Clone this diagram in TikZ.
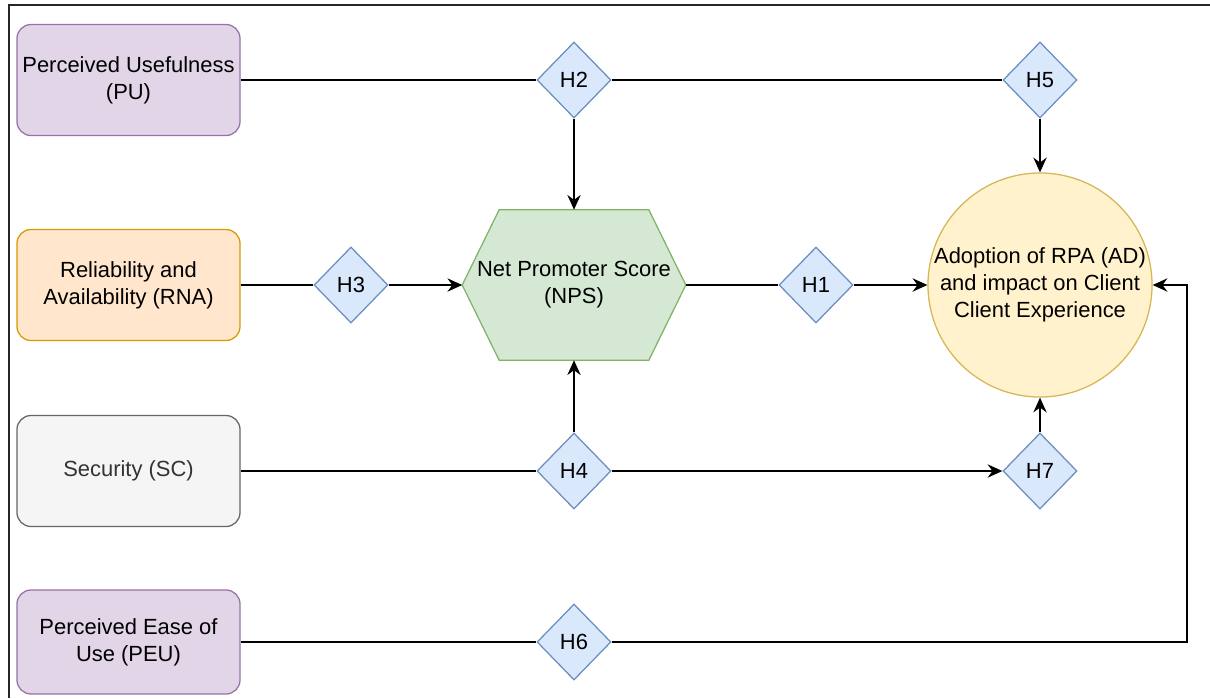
\documentclass[tikz,border=0pt]{standalone}
\usepackage{fontspec}
\setmainfont{Liberation Sans}
\usetikzlibrary{arrows.meta, shapes.geometric, calc, backgrounds}

\definecolor{puFill}{HTML}{E1D5E7}
\definecolor{puDraw}{HTML}{9673A6}
\definecolor{rnaFill}{HTML}{FFE6CC}
\definecolor{rnaDraw}{HTML}{D79B00}
\definecolor{scFill}{HTML}{F5F5F5}
\definecolor{scDraw}{HTML}{666666}
\definecolor{scText}{HTML}{333333}
\definecolor{npsFill}{HTML}{D5E8D4}
\definecolor{npsDraw}{HTML}{82B366}
\definecolor{hypFill}{HTML}{DAE8FC}
\definecolor{hypDraw}{HTML}{6C8EBF}
\definecolor{adFill}{HTML}{FFF2CC}
\definecolor{adDraw}{HTML}{D6B656}

\begin{document}
\begin{tikzpicture}[
  x=0.025cm, y=-0.025cm,
  every node/.style={font=\fontsize{15.6}{19.2}\selectfont},
  box/.style={draw, line width=0.9pt, rounded corners=10pt, minimum width=5.575cm, minimum height=2.775cm, align=center, inner sep=2pt},
  usefulness/.style={box, fill=puFill, draw=puDraw},
  reliab/.style={box, fill=rnaFill, draw=rnaDraw},
  secur/.style={box, fill=scFill, draw=scDraw, text=scText},
  hyp/.style={diamond, draw=hypDraw, fill=hypFill, line width=0.9pt, minimum width=1.85cm, minimum height=1.9cm, inner sep=0pt},
  hexnode/.style={minimum width=5.575cm, minimum height=3.75cm, align=center, inner sep=0pt},
  adopt/.style={circle, draw=adDraw, fill=adFill, line width=0.9pt, minimum size=5.6cm, inner sep=0pt, align=center},
  arrow/.style={-{Stealth[length=10.5pt, width=9.5pt, inset=3.5pt]}, line width=1pt, draw=black},
  link/.style={line width=1pt, draw=black}
]
\useasboundingbox (0,0) rectangle (1210,698);

% Frame (right and bottom edges cut off)
\draw[line width=1.6pt, black!85] (9,698) -- (9,5) -- (1210,5);

% Left column: constructs
\node[usefulness] (pu)  at (128.5,80)  {Perceived Usefulness\\(PU)};
\node[reliab]     (rna) at (128.5,285) {Reliability and\\Availability (RNA)};
\node[secur]      (sc)  at (128.5,471) {Security (SC)};
\node[usefulness, minimum height=2.6cm] (peu) at (128.5,642) {Perceived Ease of\\Use (PEU)};

% Middle: NPS hexagon
\node[hexnode] (nps) at (574,285) {Net Promoter Score\\(NPS)};
\begin{scope}[on background layer]
  \filldraw[fill=npsFill, draw=npsDraw, line width=0.9pt]
    (nps.west) -- ($(nps.north west)+(37,0)$) -- ($(nps.north east)+(-37,0)$)
    -- (nps.east) -- ($(nps.south east)+(-37,0)$) -- ($(nps.south west)+(37,0)$) -- cycle;
\end{scope}

% Right: adoption
\node[adopt] (ad) at (1040,285) {Adoption of RPA (AD)\\and impact on Client\\Client Experience};

% Hypotheses
\node[hyp] (h2) at (574,80)   {H2};
\node[hyp] (h5) at (1040,80)  {H5};
\node[hyp] (h3) at (351,285)  {H3};
\node[hyp] (h1) at (816,285)  {H1};
\node[hyp] (h4) at (574,471)  {H4};
\node[hyp] (h7) at (1040,471) {H7};
\node[hyp] (h6) at (574,642)  {H6};

% Top row
\draw[link]  (pu.east) -- (h2.west);
\draw[link]  (h2.east) -- (h5.west);
\draw[arrow] (h2.south) -- (nps.north);
\draw[arrow] (h5.south) -- (ad.north);

% Middle row
\draw[link]  (rna.east) -- (h3.west);
\draw[arrow] (h3.east) -- (nps.west);
\draw[link]  (nps.east) -- (h1.west);
\draw[arrow] (h1.east) -- (ad.west);

% Security row
\draw[link]  (sc.east) -- (h4.west);
\draw[arrow] (h4.north) -- (nps.south);
\draw[arrow] (h4.east) -- (h7.west);
\draw[arrow] (h7.north) -- (ad.south);

% Bottom row, routed round the right
\coordinate (turn) at (1187,285);
\draw[link]  (peu.east) -- (h6.west);
\draw[arrow] (h6.east) -| (turn) -- (ad.east);

\end{tikzpicture}
\end{document}
